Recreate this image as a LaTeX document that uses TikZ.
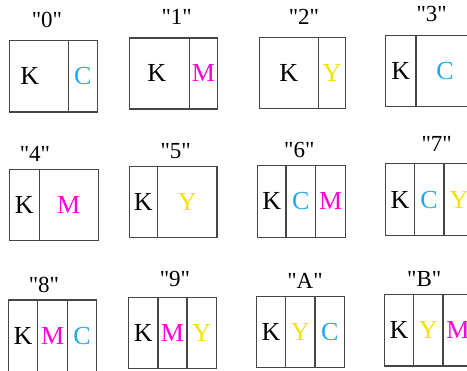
\documentclass[tikz,border=0pt]{standalone}
\usepackage{fontspec}
\setmainfont{Liberation Serif}
\newfontfamily\labfont{Liberation Serif}
\definecolor{cC}{RGB}{30,170,240}
\definecolor{cM}{RGB}{255,0,220}
\definecolor{cY}{RGB}{240,228,0}
\definecolor{lineg}{RGB}{70,70,70}
\newcommand\qq{\symbol{34}}
\tikzset{
  cellb/.style={draw=lineg, line width=1.4pt, inner sep=0pt, text height=17pt, text depth=0pt,
    font=\fontsize{26}{26}\selectfont},
  lab/.style={anchor=base, inner sep=0pt, font=\labfont\fontsize{23}{23}\selectfont}
}
% name, x1, x2, y1, y2, letter, colour
\newcommand\mycell[7]{%
  \node[cellb, text=#7, minimum width={(#3-#2)*1pt}, minimum height={(#5-#4)*1pt}]
    (#1) at ({(#2+#3)/2},{(#4+#5)/2}) {#6};}
\begin{document}
\begin{tikzpicture}[x=1pt,y=-1pt]
\useasboundingbox (0,0) rectangle (467,371);
% row 1
\node[lab] (l0) at (47,28) {\qq0\qq};
\mycell{c0a}{9.3}{68.3}{40.7}{112}{\hspace*{-18pt}K}{black}
\mycell{c0b}{68.3}{97.3}{40.7}{112}{C}{cC}
\node[lab] (l1) at (176.7,25) {\qq1\qq};
\mycell{c1a}{129.3}{189.3}{38}{109}{\hspace*{-5pt}K}{black}
\mycell{c1b}{189.3}{217.7}{38}{109}{M}{cM}
\node[lab] (l2) at (304,25) {\qq2\qq};
\mycell{c2a}{259.3}{318.3}{37.3}{108.3}{K}{black}
\mycell{c2b}{318.3}{345.7}{37.3}{108.3}{Y}{cY}
\node[lab] (l3) at (431.7,22) {\qq3\qq};
\mycell{c3a}{385.7}{416}{35.3}{106.7}{K}{black}
\mycell{c3b}{416}{474}{35.3}{106.7}{C}{cC}
% row 2
\node[lab] (l4) at (35,162) {\qq4\qq};
\mycell{c4a}{9.3}{39.3}{169.3}{240.3}{K}{black}
\mycell{c4b}{39.3}{98.3}{169.3}{240.3}{M}{cM}
\node[lab] (l5) at (175.7,158.7) {\qq5\qq};
\mycell{c5a}{129.3}{157.3}{166.7}{237.7}{K}{black}
\mycell{c5b}{157.3}{217}{166.7}{237.7}{Y}{cY}
\node[lab] (l6) at (299.3,158) {\qq6\qq};
\mycell{c6a}{257.3}{286}{165.7}{237.3}{K}{black}
\mycell{c6b}{286}{315.7}{165.7}{237.3}{C}{cC}
\mycell{c6c}{315.7}{345.7}{165.7}{237.3}{M}{cM}
\node[lab] (l7) at (436.7,152) {\qq7\qq};
\mycell{c7a}{385.7}{414.3}{163.7}{235.7}{K}{black}
\mycell{c7b}{414.3}{444}{163.7}{235.7}{C}{cC}
\mycell{c7c}{444}{474}{163.7}{235.7}{Y}{cY}
% row 3
\node[lab] (l8) at (44,292.3) {\qq8\qq};
\mycell{c8a}{8.3}{37.7}{300}{372}{K}{black}
\mycell{c8b}{37.7}{67.7}{300}{372}{M}{cM}
\mycell{c8c}{67.7}{96.3}{300}{372}{C}{cC}
\node[lab] (l9) at (175,287) {\qq9\qq};
\mycell{c9a}{128.3}{158}{297.3}{368.7}{K}{black}
\mycell{c9b}{158}{187}{297.3}{368.7}{M}{cM}
\mycell{c9c}{187}{216.3}{297.3}{368.7}{Y}{cY}
\node[lab] (lA) at (305,289) {\qq A\qq};
\mycell{cAa}{256.7}{285.3}{296.3}{367.7}{K}{black}
\mycell{cAb}{285.3}{315}{296.3}{367.7}{Y}{cY}
\mycell{cAc}{315}{344.7}{296.3}{367.7}{C}{cC}
\node[lab] (lB) at (424.3,286.3) {\qq B\qq};
\mycell{cBa}{384.3}{413.7}{294.7}{366}{K}{black}
\mycell{cBb}{413.7}{443}{294.7}{366}{Y}{cY}
\mycell{cBc}{443}{473}{294.7}{366}{M}{cM}
\end{tikzpicture}
\end{document}
